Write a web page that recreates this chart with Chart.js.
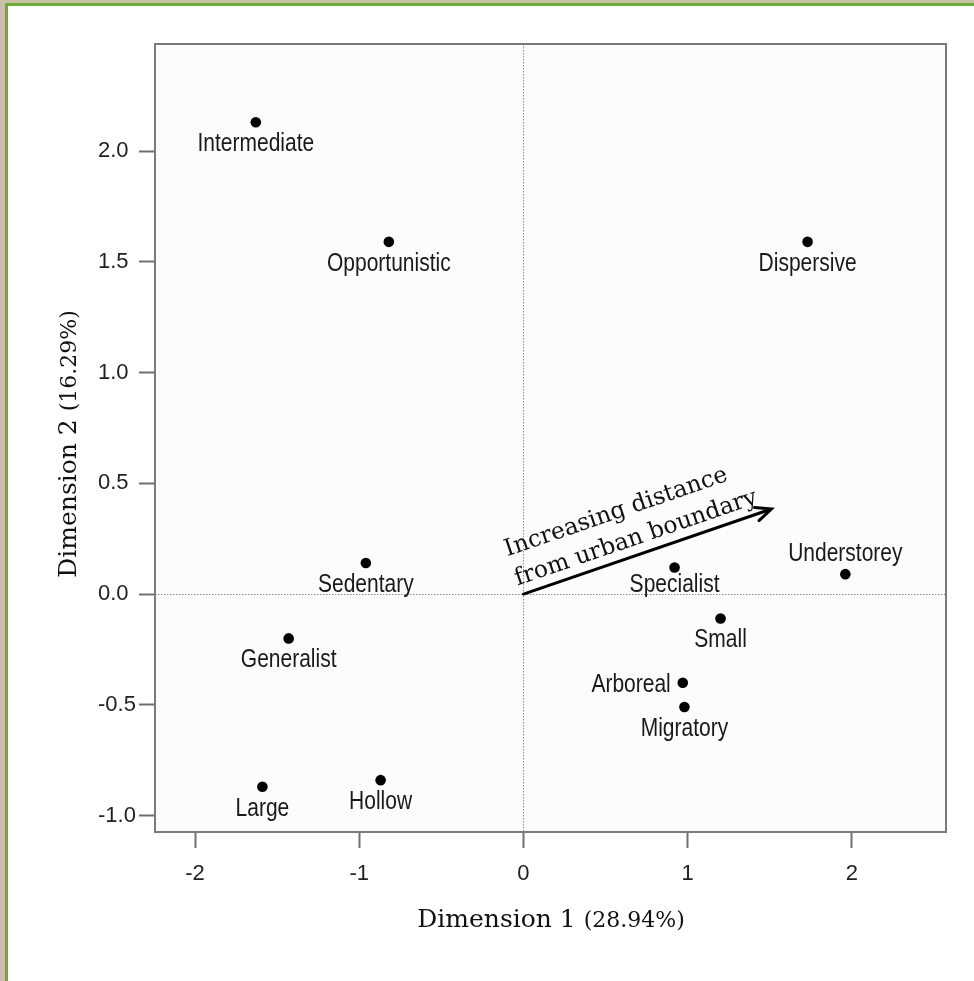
<!DOCTYPE html>
<html>
<head>
<meta charset="utf-8">
<script src="https://cdn.jsdelivr.net/npm/chart.js@4.4.1/dist/chart.umd.min.js"></script>
<style>
  html, body { margin: 0; padding: 0; background: #fff; overflow: hidden; }
  #wrap { position: absolute; left: 0; top: 0; width: 974px; height: 981px; }
</style>
</head>
<body>
<div id="wrap"><canvas id="c" width="974" height="981"></canvas></div>
<script>
// Trait categories and their coordinates on the first two dimensions
const traits = ['Intermediate', 'Opportunistic', 'Dispersive', 'Sedentary', 'Specialist', 'Understorey',
                'Small', 'Generalist', 'Arboreal', 'Migratory', 'Large', 'Hollow'];
const dim1 = [-1.63, -0.82, 1.73, -0.96, 0.92, 1.96, 1.20, -1.43, 0.97, 0.98, -1.59, -0.87];
const dim2 = [2.13, 1.59, 1.59, 0.14, 0.12, 0.09, -0.11, -0.20, -0.40, -0.51, -0.87, -0.84];

// Axis ticks
const xTickValues = [-2, -1, 0, 1, 2];
const yTickValues = [-1.0, -0.5, 0.0, 0.5, 1.0, 1.5, 2.0];

// Gradient arrow (from origin) and its caption
const arrowFrom = [0, 0];
const arrowTo = [1.51, 0.384];
const arrowCaption = ['Increasing distance', 'from urban boundary'];

// Axis titles: name and explained inertia
const xTitle = ['Dimension 1', '(28.94%)'];
const yTitle = ['Dimension 2', '(16.29%)'];

// Where each label sits relative to its point (default: centred below)
const labelPlacement = {
  Specialist: { dx: 0, dy: 25, align: 'center' },
  Understorey: { dx: 0, dy: -13, align: 'center' },
  Arboreal: { dx: -12, dy: 9, align: 'right' }
};
const defaultPlacement = { dx: 0, dy: 29, align: 'center' };

const SANS = "'Liberation Sans', Arial, Helvetica, sans-serif";
const SERIF = "'DejaVu Serif', serif";

function narrowText(ctx, text, x, y, align) {
  ctx.save();
  ctx.translate(x, y);
  ctx.scale(0.84, 1);
  ctx.textAlign = align;
  ctx.textBaseline = 'alphabetic';
  ctx.fillText(text, 0, 0);
  ctx.restore();
}

const decor = {
  id: 'decor',
  beforeDraw(chart) {
    const { ctx, chartArea: a, width, height } = chart;
    ctx.save();
    ctx.fillStyle = '#ffffff';
    ctx.fillRect(0, 0, width, height);
    // page frame (left and top edges)
    ctx.fillStyle = '#c7c2a7';
    ctx.fillRect(0, 0, 5, height);
    ctx.fillRect(0, 0, width, 3);
    ctx.fillStyle = '#6da83a';
    ctx.fillRect(5, 3, 3, height - 3);
    ctx.fillRect(5, 3, width - 5, 3);
    // plot panel
    ctx.fillStyle = '#fcfcfc';
    ctx.fillRect(a.left, a.top, a.right - a.left, a.bottom - a.top);
    ctx.restore();
  },
  beforeDatasetsDraw(chart) {
    const { ctx, chartArea: a, scales: { x, y } } = chart;
    ctx.save();
    ctx.strokeStyle = '#8c8c8c';
    ctx.lineWidth = 1;
    ctx.setLineDash([1.5, 1.5]);
    const x0 = Math.round(x.getPixelForValue(0)) + 0.5;
    const y0 = Math.round(y.getPixelForValue(0)) + 0.5;
    ctx.beginPath();
    ctx.moveTo(x0, a.top); ctx.lineTo(x0, a.bottom);
    ctx.moveTo(a.left, y0); ctx.lineTo(a.right, y0);
    ctx.stroke();
    ctx.restore();
  },
  afterDatasetsDraw(chart) {
    const { ctx, chartArea: a, scales: { x, y } } = chart;
    ctx.save();

    // panel border
    ctx.strokeStyle = '#7a7a7a';
    ctx.lineWidth = 2;
    ctx.strokeRect(a.left, a.top, a.right - a.left, a.bottom - a.top);

    // point labels
    ctx.fillStyle = '#1a1a1a';
    ctx.font = '25px ' + SANS;
    traits.forEach((t, i) => {
      const p = labelPlacement[t] || defaultPlacement;
      const px = x.getPixelForValue(dim1[i]);
      const py = y.getPixelForValue(dim2[i]);
      narrowText(ctx, t, px + p.dx, py + p.dy, p.align);
    });

    // arrow
    const ax0 = x.getPixelForValue(arrowFrom[0]), ay0 = y.getPixelForValue(arrowFrom[1]);
    const ax1 = x.getPixelForValue(arrowTo[0]), ay1 = y.getPixelForValue(arrowTo[1]);
    const ang = Math.atan2(ay1 - ay0, ax1 - ax0);
    ctx.strokeStyle = '#000';
    ctx.lineWidth = 3;
    ctx.lineCap = 'round';
    ctx.beginPath();
    ctx.moveTo(ax0, ay0); ctx.lineTo(ax1, ay1);
    const hl = 17, ha = Math.PI / 7.5;
    ctx.moveTo(ax1 - hl * Math.cos(ang - ha), ay1 - hl * Math.sin(ang - ha));
    ctx.lineTo(ax1, ay1);
    ctx.lineTo(ax1 - hl * Math.cos(ang + ha), ay1 - hl * Math.sin(ang + ha));
    ctx.stroke();

    // arrow caption, written along the arrow
    ctx.save();
    ctx.translate(ax0, ay0);
    ctx.rotate(ang);
    ctx.fillStyle = '#111';
    ctx.font = '23.5px ' + SERIF;
    ctx.textAlign = 'left';
    ctx.textBaseline = 'alphabetic';
    ctx.fillText(arrowCaption[0], -3, -41);
    ctx.fillText(arrowCaption[1], -3, -10);
    ctx.restore();

    // axis titles
    function titleWidth(parts) {
      ctx.font = '25px ' + SERIF;
      const w1 = ctx.measureText(parts[0] + ' ').width;
      ctx.font = '22px ' + SERIF;
      const w2 = ctx.measureText(parts[1]).width;
      return [w1, w2];
    }
    function drawTitle(parts, cx, baseline) {
      const [w1, w2] = titleWidth(parts);
      const start = cx - (w1 + w2) / 2;
      ctx.textAlign = 'left';
      ctx.textBaseline = 'alphabetic';
      ctx.fillStyle = '#111';
      ctx.font = '25px ' + SERIF;
      ctx.fillText(parts[0], start, baseline);
      ctx.font = '22px ' + SERIF;
      ctx.fillText(parts[1], start + w1, baseline);
    }
    drawTitle(xTitle, 551, 927);
    ctx.save();
    ctx.translate(76, 444);
    ctx.rotate(-Math.PI / 2);
    drawTitle(yTitle, 0, 0);
    ctx.restore();

    ctx.restore();
  }
};

const tickFont = { family: SANS, size: 22 };

new Chart(document.getElementById('c'), {
  type: 'scatter',
  data: {
    datasets: [{
      data: traits.map((t, i) => ({ x: dim1[i], y: dim2[i] })),
      pointRadius: 5.3,
      pointHoverRadius: 5.3,
      backgroundColor: '#000',
      borderWidth: 0
    }]
  },
  options: {
    responsive: false,
    animation: false,
    devicePixelRatio: 1,
    layout: { padding: { top: 44, right: 28, left: 98, bottom: 0 } },
    plugins: { legend: { display: false }, tooltip: { enabled: false } },
    scales: {
      x: {
        type: 'linear',
        min: -2.244,
        max: 2.573,
        afterBuildTicks: s => { s.ticks = xTickValues.map(v => ({ value: v })); },
        afterFit: s => { s.height = 149; },
        ticks: { font: tickFont, color: '#222', padding: 13, maxRotation: 0,
                 callback: v => String(v) },
        grid: { drawOnChartArea: false, drawTicks: true, tickLength: 16, tickColor: '#707070', tickWidth: 2 },
        border: { display: false }
      },
      y: {
        type: 'linear',
        min: -1.074,
        max: 2.483,
        afterBuildTicks: s => { s.ticks = yTickValues.map(v => ({ value: v })); },
        afterFit: s => { s.width = 57; },
        ticks: { font: tickFont, color: '#222', padding: 11, crossAlign: 'far',
                 callback: v => Number(v).toFixed(1) },
        grid: { drawOnChartArea: false, drawTicks: true, tickLength: 16, tickColor: '#707070', tickWidth: 2 },
        border: { display: false }
      }
    }
  },
  plugins: [decor]
});
</script>
</body>
</html>
